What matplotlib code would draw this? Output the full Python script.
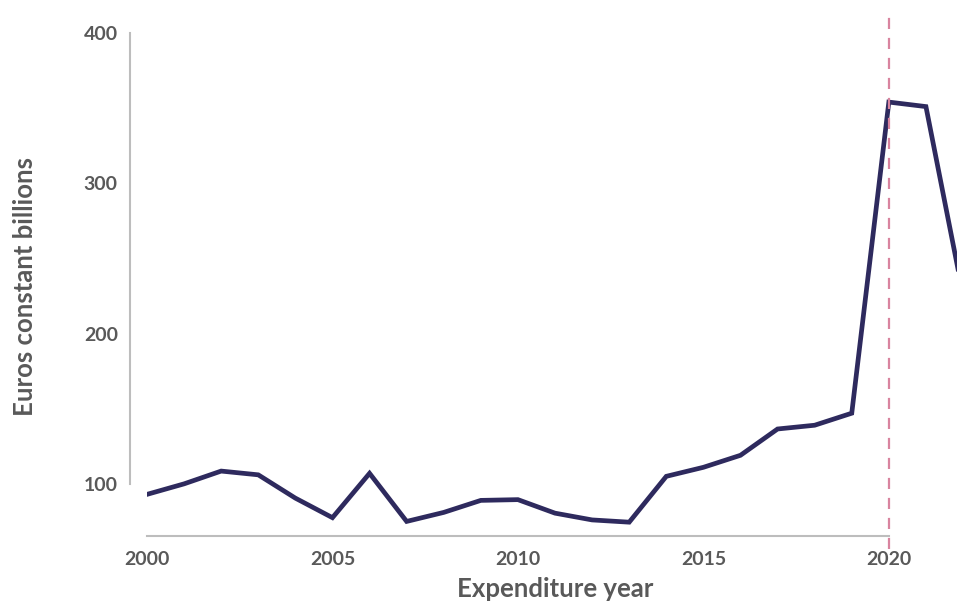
import matplotlib
matplotlib.use("Agg")
import matplotlib.pyplot as plt

years = list(range(2000, 2023))
spend = [93, 100, 108.5, 106, 90.5, 77.5, 107, 75, 81, 89, 89.5, 80.5, 76, 74.5,
         105, 111, 119, 136.5, 139, 147, 354, 351, 226]

y_ticks = [100, 200, 300, 400]
x_ticks = [2000, 2005, 2010, 2015, 2020]

text_col = "#595959"
line_col = "#2e2a5e"
spine_col = "#bdbdbd"
marker_col = "#d9849f"

plt.rcParams["font.family"] = ["Lato", "DejaVu Sans"]
plt.rcParams["font.weight"] = "bold"
plt.rcParams["axes.labelweight"] = "bold"

fig = plt.figure(figsize=(9.57, 6.03), dpi=100)
ax = fig.add_axes([0.1536, 0.1111, 0.8527, 0.8607])

ax.plot(years, spend, color=line_col, lw=3.4, solid_joinstyle="miter")
ax.axvline(2020, ymin=-0.025, ymax=1, color=marker_col, lw=1.6,
           dashes=(5, 4), clip_on=False)

ax.set_xlim(2000, 2022)
ax.set_ylim(65.3, 410.6)
ax.set_xticks(x_ticks)
ax.set_yticks(y_ticks)

for s in ["top", "right"]:
    ax.spines[s].set_visible(False)
ax.spines["left"].set_position(("outward", 12))
ax.spines["left"].set_bounds(100, 400)
ax.spines["bottom"].set_bounds(2000, 2020)
for s in ["left", "bottom"]:
    ax.spines[s].set_color(spine_col)
    ax.spines[s].set_linewidth(1.5)

ax.tick_params(axis="both", length=0, labelsize=14, labelcolor=text_col)
ax.tick_params(axis="y", pad=9)
ax.tick_params(axis="x", pad=11)

ax.set_xlabel("Expenditure year", fontsize=18.5, color=text_col, labelpad=6)
ax.set_ylabel("Euros constant billions", fontsize=18.5, color=text_col)
ax.yaxis.set_label_coords(-0.135, 0.48)

fig.savefig("out.png", dpi=100)
